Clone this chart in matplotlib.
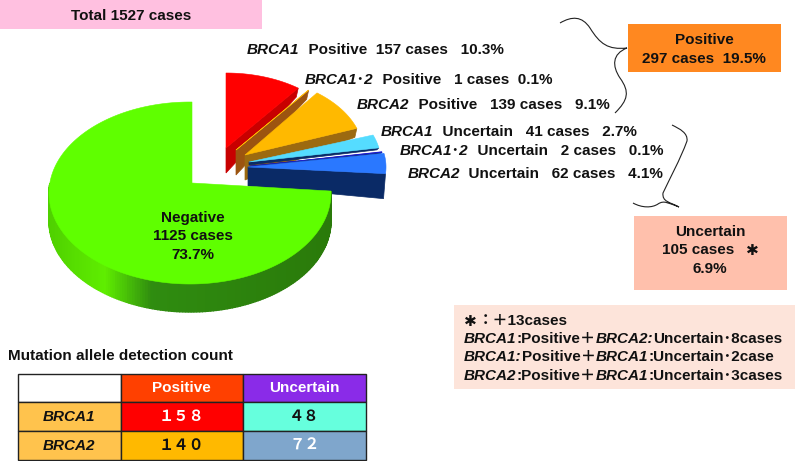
"""Pie of BRCA results with boxes and a small table, laid out in pixel units"""
import numpy as np
import matplotlib
matplotlib.use("Agg")
import matplotlib.pyplot as plt
from matplotlib.patches import Polygon, Rectangle, PathPatch
from matplotlib.path import Path
from matplotlib.colors import LinearSegmentedColormap

plt.rcParams['font.family'] = ['Liberation Sans', 'Noto Sans CJK JP']

# data
slice_names = ['BRCA1 pos', 'BRCA1-2 pos', 'BRCA2 pos', 'BRCA1 unc', 'BRCA1-2 unc', 'BRCA2 unc', 'Negative']
slice_cases = [157, 1, 139, 41, 2, 62, 1125]
total_cases = 1527

table_rows = ['BRCA1', 'BRCA2']
table_cols = ['Positive', 'Uncertain']
table_values = [['１５８', '４８'], ['１４０', '７２']]

# slice styles, same order as slice_cases
top_colors = ['#ff0000', '#ffb900', '#ffb900', '#55dcff', '#1a1ad0', '#2a78ff']
side_colors = ['#c80000', '#9c5410', '#9c6a10', '#0a2a66', '#0a2a66', '#0a2a66']
apex_xy = [(226, 148), (236, 150), (245, 155), (249, 162), (250, 166), (248, 167)]
radii = [(120, 75), (120, 75), (119, 78), (132, 79), (134, 80), (138, 80)]
depths = [(25, 9), (25, 9), (25, 9), (3, 2), (3, 2), (19, 25)]

fig = plt.figure(figsize=(7.96, 4.61), dpi=100)
ax = fig.add_axes([0, 0, 1, 1])
ax.set_xlim(0, 796)
ax.set_ylim(461, 0)
ax.axis('off')


def rim(cx, cy, a, b, t0, t1, n=60):
    # angles in degrees, clockwise from north
    t = np.radians(np.linspace(t0, t1, n))
    return np.column_stack([cx + a * np.sin(t), cy - b * np.cos(t)])


angles = np.cumsum([0] + slice_cases) / total_cases * 360

# exploded slices, back to front
for i in range(6):
    t0, t1 = angles[i], angles[i + 1]
    (x0, y0), (a, b) = apex_xy[i], radii[i]
    edge = rim(x0, y0, a, b, t0, t1)
    d_in, d_out = depths[i]
    end = edge[-1]
    ax.add_patch(Polygon([(x0, y0), end, (end[0] - 2, end[1] + d_out), (x0, y0 + d_in)],
                         fc=side_colors[i], ec=side_colors[i], lw=0.5))
    ax.add_patch(Polygon(np.vstack([[(x0, y0)], edge]), fc=top_colors[i], ec=top_colors[i], lw=0.4))

# negative slice: side band with a gradient, then the top
# drawn start is turned back a little, the rim of this slice sits higher than the others
neg_t0, neg_t1 = angles[6] - 6, angles[7]
neg_edge = rim(190, 193, 141, 91, neg_t0, neg_t1, 240)
side_cmap = LinearSegmentedColormap.from_list(
    'side', [(0, '#4fd000'), (0.2, '#5fee00'), (0.37, '#2f8c10'), (1, '#2a7a0a')])
for k in range(len(neg_edge) - 1):
    p, q = neg_edge[k], neg_edge[k + 1]
    if p[1] < 185:
        continue
    c = side_cmap((p[0] - 48) / 283)
    ax.add_patch(Polygon([p, q, (q[0], q[1] + 28), (p[0], p[1] + 28)], fc=c, ec=c, lw=1.0))
ax.add_patch(Polygon(np.vstack([[(192, 183)], neg_edge, [(192, 102)]]), fc='#5fff00', ec='#5fff00', lw=0.4))

# label text
BOLD = dict(fontweight='bold', color='#111111', va='baseline')
SIZE = 11


def runs(x, y, parts, size=SIZE):
    # parts: (text, italic) pieces drawn one after the other
    r = fig.canvas.get_renderer()
    for s, it in parts:
        t = ax.text(x, y, s, fontsize=size, fontstyle='italic' if it else 'normal', **BOLD)
        x += t.get_window_extent(r).width


slice_labels = [
    (247, 54, 'BRCA1', '  Positive  157 cases   10.3%'),
    (305, 84, 'BRCA1･2', '  Positive   1 cases  0.1%'),
    (357, 109, 'BRCA2', '  Positive   139 cases   9.1%'),
    (381, 136, 'BRCA1', '  Uncertain   41 cases   2.7%'),
    (400, 155, 'BRCA1･2', '  Uncertain   2 cases   0.1%'),
    (408, 178, 'BRCA2', '  Uncertain   62 cases   4.1%'),
]
for x, y, gene, rest in slice_labels:
    runs(x, y, [(gene, True), (rest, False)])

for y, s in zip([222, 240, 259], ['Negative', '1125 cases', '73.7%']):
    ax.text(193, y, s, fontsize=SIZE, ha='center', **BOLD)

# boxes
boxes = [(0, 0, 262, 29, '#ffc0e0'), (628, 24, 153, 48, '#ff8820'),
         (634, 216, 153, 74, '#ffc0ac'), (454, 305, 341, 84, '#fde4da')]
for x, y, w, h, c in boxes:
    ax.add_patch(Rectangle((x, y), w, h, fc=c, ec='none'))

ax.text(131, 20, 'Total 1527 cases', fontsize=SIZE, ha='center', **BOLD)
ax.text(704, 44, 'Positive', fontsize=SIZE, ha='center', **BOLD)
ax.text(704, 63, '297 cases  19.5%', fontsize=SIZE, ha='center', **BOLD)
ax.text(710, 236, 'Uncertain', fontsize=SIZE, ha='center', **BOLD)
ax.text(662, 254, '105 cases', fontsize=SIZE, ha='left', **BOLD)
ax.text(752, 255, '✱', fontsize=11, ha='center', family='DejaVu Sans', **BOLD)
ax.text(710, 273, '6.9%', fontsize=SIZE, ha='center', **BOLD)

ax.text(470, 326, '✱', fontsize=11, ha='center', family='DejaVu Sans', **BOLD)
runs(478, 325, [('：＋13cases', False)])
runs(464, 343, [('BRCA1', True), (':Positive＋', False), ('BRCA2:', True), ('Uncertain･8cases', False)])
runs(464, 361, [('BRCA1:', True), ('Positive＋', False), ('BRCA1', True), (':Uncertain･2case', False)])
runs(464, 380, [('BRCA2', True), (':Positive＋', False), ('BRCA1', True), (':Uncertain･3cases', False)])

# braces
brace_a = [(560, 23), (572, 16), (582, 16), (590, 28), (600, 44), (608, 50), (627, 48),
           (612, 54), (612, 66), (620, 78), (630, 92), (628, 100), (615, 113)]
brace_b = [(672, 125), (680, 129), (688, 133), (687, 141), (680, 160), (670, 178), (663, 193),
           (662, 202), (670, 202), (679, 207), (668, 203), (664, 200), (658, 204),
           (652, 208), (642, 208), (633, 203)]
for pts in [brace_a, brace_b]:
    codes = [Path.MOVETO] + [Path.CURVE4] * (len(pts) - 1)
    ax.add_patch(PathPatch(Path(pts, codes), fc='none', ec='#222222', lw=0.8))

# table
ax.text(8, 360, 'Mutation allele detection count', fontsize=SIZE, **BOLD)
col_x = [18, 120.5, 243, 366]
row_y = [374, 402, 431, 460]
cell_colors = [['#ffffff', '#ff4000', '#8a2be8'],
               ['#ffc34d', '#ff0000', '#66ffdd'],
               ['#ffc34d', '#ffb900', '#7fa6cc']]
cell_text_colors = [['k', 'white', 'white'],
                    ['#111111', 'white', '#111111'],
                    ['#111111', '#111111', 'white']]
cells = [[''] + table_cols] + [[g] + v for g, v in zip(table_rows, table_values)]
for r in range(3):
    for c in range(3):
        ax.add_patch(Rectangle((col_x[c], row_y[r]), col_x[c + 1] - col_x[c], row_y[r + 1] - row_y[r],
                               fc=cell_colors[r][c], ec='#222222', lw=1.0))
        ax.text((col_x[c] + col_x[c + 1]) / 2, (row_y[r] + row_y[r + 1]) / 2, cells[r][c],
                fontsize=SIZE, fontweight='bold', color=cell_text_colors[r][c], ha='center', va='center',
                fontstyle='italic' if (c == 0 and r > 0) else 'normal')

fig.savefig('out.png', dpi=100)
